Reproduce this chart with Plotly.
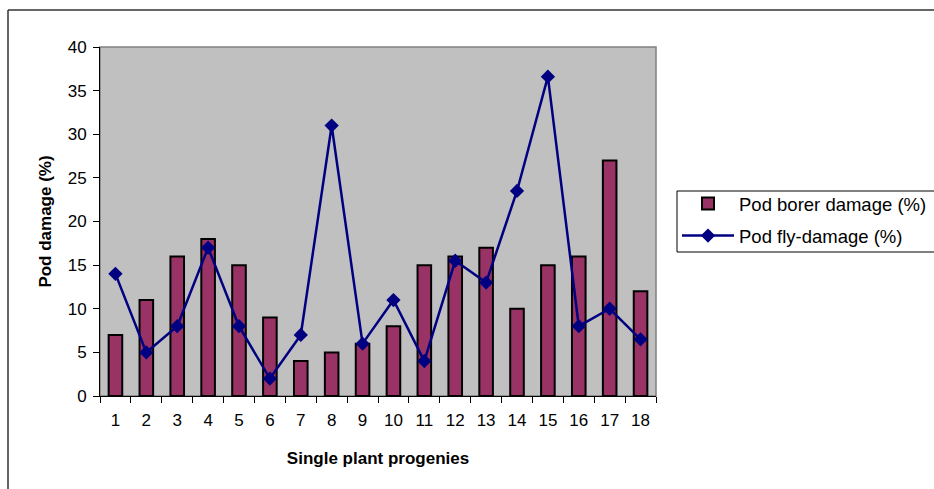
import plotly.graph_objects as go

categories = [str(i) for i in range(1, 19)]
pod_borer = [7, 11, 16, 18, 15, 9, 4, 5, 6, 8, 15, 16, 17, 10, 15, 16, 27, 12]
pod_fly = [14, 5, 8, 17, 8, 2, 7, 31, 6, 11, 4, 15.5, 13, 23.5, 36.6, 8, 10, 6.5]
y_ticks = [0, 5, 10, 15, 20, 25, 30, 35, 40]

W, H = 934, 489
L, R, T, B = 100, 656, 47, 396

def px(x):
    return (x - L) / (R - L)

def py(y):
    return (B - y) / (B - T)

FONT = "Liberation Sans, Arial, sans-serif"

fig = go.Figure()
fig.add_trace(go.Bar(
    x=categories, y=pod_borer, name="Pod borer damage (%)",
    marker=dict(color="#993366", line=dict(color="black", width=2)),
    width=0.44, legendgroup="a",
))
fig.add_trace(go.Scatter(
    x=categories, y=pod_fly, name="Pod fly-damage (%)",
    mode="lines+markers",
    line=dict(color="#000080", width=2.5),
    marker=dict(symbol="diamond", size=11, color="#000080"),
    legendgroup="b",
))

shapes = [
    dict(type="rect", xref="paper", yref="paper", x0=0, x1=1, y0=0, y1=1,
         line=dict(color="#808080", width=1.5), layer="below"),
    dict(type="line", xref="paper", yref="paper", x0=px(8), x1=px(940), y0=py(10), y1=py(10),
         line=dict(color="#333333", width=1.5)),
    dict(type="line", xref="paper", yref="paper", x0=px(8), x1=px(8), y0=py(10), y1=py(495),
         line=dict(color="#333333", width=1.5)),
    # legend box
    dict(type="rect", xref="paper", yref="paper", x0=px(677), x1=px(940), y0=py(252), y1=py(191),
         line=dict(color="black", width=1), fillcolor="white", layer="below"),
]

fig.update_layout(
    width=W, height=H,
    margin=dict(l=L, r=W - R, t=T, b=H - B, autoexpand=False),
    paper_bgcolor="white",
    plot_bgcolor="#C0C0C0",
    font=dict(family=FONT, size=17, color="black"),
    showlegend=True,
    legend=dict(
        x=px(677), y=py(185), xanchor="left", yanchor="top",
        bgcolor="rgba(0,0,0,0)", borderwidth=0,
        font=dict(family=FONT, size=18.5, color="black"),
        tracegroupgap=5, itemwidth=52,
    ),
    xaxis=dict(
        type="category", range=[-0.5, 17.5],
        tickson="boundaries",
        ticks="outside", ticklen=6, tickcolor="black",
        showline=True, linecolor="black", linewidth=1,
        showgrid=False, zeroline=False,
        tickfont=dict(family=FONT, size=17),
        ticklabelstandoff=9,
        title=dict(text="<b>Single plant progenies</b>", font=dict(family=FONT, size=17), standoff=22),
    ),
    yaxis=dict(
        range=[0, 40], tickvals=y_ticks,
        ticks="outside", ticklen=6, tickcolor="black",
        showline=True, linecolor="black", linewidth=1,
        showgrid=False, zeroline=False,
        tickfont=dict(family=FONT, size=17),
        ticklabelstandoff=3,
        title=dict(text="<b>Pod damage (%)</b>", font=dict(family=FONT, size=17), standoff=11),
    ),
    shapes=shapes,
)

fig.write_html("out.html")
